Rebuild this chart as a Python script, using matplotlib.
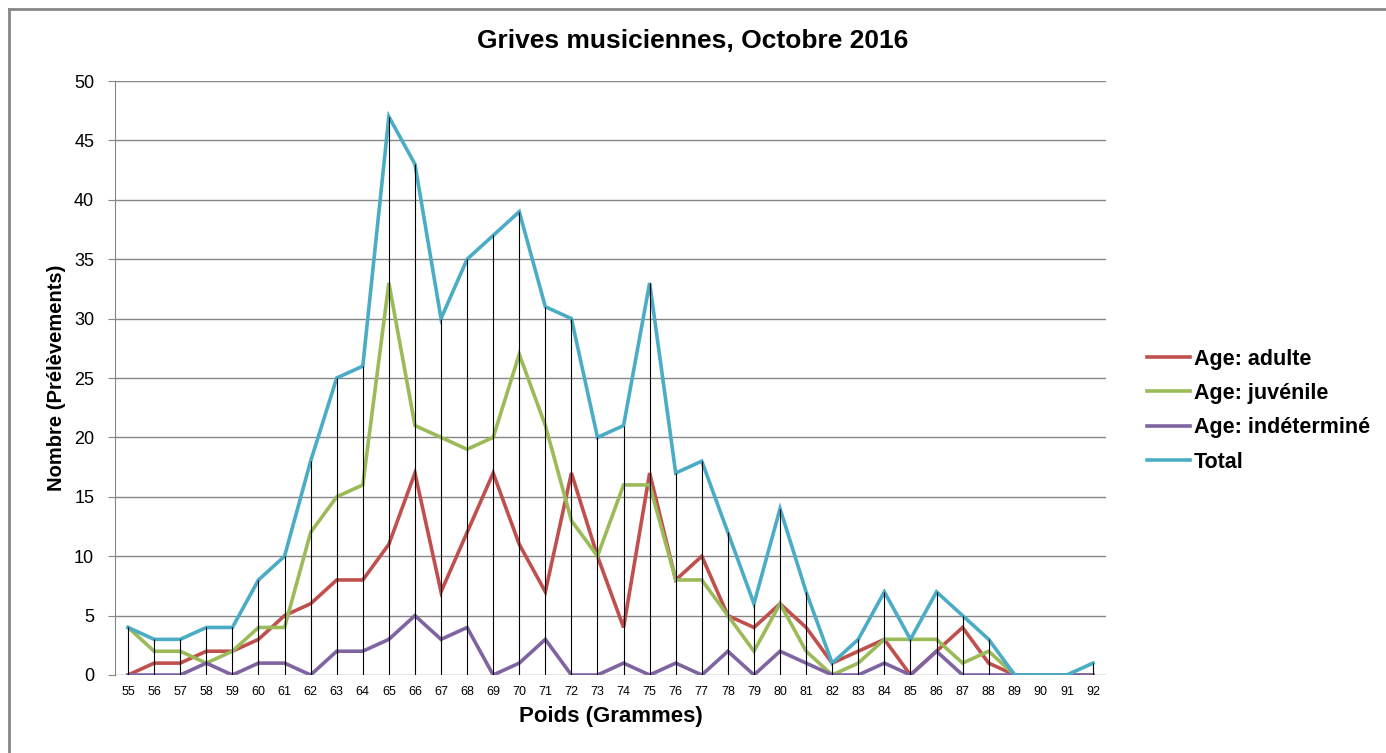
import numpy as np
import matplotlib
matplotlib.use("Agg")
import matplotlib.pyplot as plt
from matplotlib.lines import Line2D

plt.rcParams['font.family'] = ['Liberation Sans', 'DejaVu Sans']

poids = list(range(55, 93))
adulte = [0, 1, 1, 2, 2, 3, 5, 6, 8, 8, 11, 17, 7, 12, 17, 11, 7, 17, 10, 4,
          17, 8, 10, 5, 4, 6, 4, 1, 2, 3, 0, 2, 4, 1, 0, 0, 0, 0]
juvenile = [4, 2, 2, 1, 2, 4, 4, 12, 15, 16, 33, 21, 20, 19, 20, 27, 21, 13, 10, 16,
            16, 8, 8, 5, 2, 6, 2, 0, 1, 3, 3, 3, 1, 2, 0, 0, 0, 0]
indetermine = [0, 0, 0, 1, 0, 1, 1, 0, 2, 2, 3, 5, 3, 4, 0, 1, 3, 0, 0, 1,
               0, 1, 0, 2, 0, 2, 1, 0, 0, 1, 0, 2, 0, 0, 0, 0, 0, 0]
total = [4, 3, 3, 4, 4, 8, 10, 18, 25, 26, 47, 43, 30, 35, 37, 39, 31, 30, 20, 21,
         33, 17, 18, 12, 6, 14, 7, 1, 3, 7, 3, 7, 5, 3, 0, 0, 0, 1]

series = [
    ("Age: adulte", adulte, "#C0504D"),
    ("Age: juvénile", juvenile, "#9BBB59"),
    ("Age: indéterminé", indetermine, "#8064A2"),
    ("Total", total, "#4BACC6"),
]

fig = plt.figure(figsize=(13.86, 7.53), dpi=100)
ax = fig.add_axes([0.083, 0.1036, 0.715, 0.7888])

x = np.arange(len(poids))

# grid
for v in range(0, 51, 5):
    ax.axhline(v, color='#868686', lw=1.0, zorder=0)

for label, vals, col in series:
    ax.plot(x, vals, color=col, lw=2.6, label=label, zorder=2, solid_joinstyle='miter')

# drop lines
ax.vlines(x, 0, total, color='black', lw=0.8, zorder=3)

ax.set_xlim(-0.5, len(poids) - 0.5)
ax.set_ylim(0, 50)
ax.set_yticks(range(0, 51, 5))
ax.set_xticks(x)
ax.set_xticklabels([str(p) for p in poids], fontsize=9)
ax.tick_params(axis='y', labelsize=13, length=5, color='#868686', pad=10)
ax.tick_params(axis='x', length=0, pad=8)

for s in ['top', 'right', 'bottom']:
    ax.spines[s].set_visible(False)
ax.spines['left'].set_color('#868686')

ax.set_xlabel("Poids (Grammes)", fontsize=16, fontweight='bold', labelpad=6)
ax.set_ylabel("Nombre (Prélèvements)", fontsize=14.5, fontweight='bold', labelpad=6)
fig.text(0.5, 0.946, "Grives musiciennes, Octobre 2016", ha='center', va='center',
         fontsize=19, fontweight='bold')

leg = ax.legend(loc='center left', bbox_to_anchor=(1.041, 0.445), frameon=False,
                prop={'size': 15.5, 'weight': 'bold'}, handlelength=2.0,
                handletextpad=0.2, labelspacing=0.62, borderpad=0, borderaxespad=0)

# chart border (only top and left edges visible in the original)
fig.add_artist(Line2D([0.0065, 0.0065], [0.0, 0.988], transform=fig.transFigure,
                      color='#868686', lw=2.0))
fig.add_artist(Line2D([0.0065, 1.0], [0.988, 0.988], transform=fig.transFigure,
                      color='#868686', lw=2.0))

fig.savefig("out.png", dpi=100)
